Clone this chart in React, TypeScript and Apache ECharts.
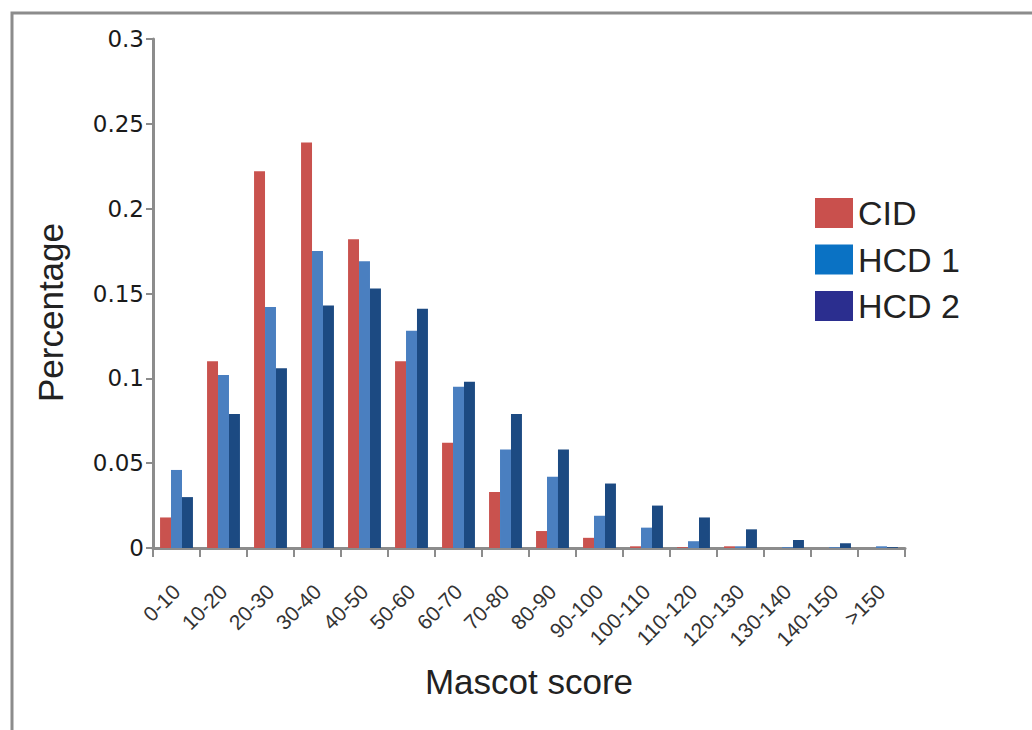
import React, { useEffect, useRef } from "react";
import * as echarts from "echarts";

const categories = [
  "0-10", "10-20", "20-30", "30-40", "40-50", "50-60", "60-70", "70-80",
  "80-90", "90-100", "100-110", "110-120", "120-130", "130-140", "140-150", ">150",
];
const cidValues = [0.018, 0.110, 0.222, 0.239, 0.182, 0.110, 0.062, 0.033, 0.010, 0.006, 0.001, 0.0005, 0.001, 0, 0, 0];
const hcd1Values = [0.046, 0.102, 0.142, 0.175, 0.169, 0.128, 0.095, 0.058, 0.042, 0.019, 0.012, 0.004, 0.001, 0.0005, 0.0005, 0.001];
const hcd2Values = [0.030, 0.079, 0.106, 0.143, 0.153, 0.141, 0.098, 0.079, 0.058, 0.038, 0.025, 0.018, 0.011, 0.0047, 0.0028, 0.0005];
const yTicks = { min: 0, max: 0.3, interval: 0.05 };

const AXIS_GRAY = "#8c8c8c";

export default function App() {
  const ref = useRef<HTMLDivElement>(null);
  useEffect(() => {
    document.body.style.margin = "0";
    if (!ref.current) return;
    const chart = echarts.init(ref.current, undefined, { renderer: "svg" });
    chart.setOption({
      animation: false,
      backgroundColor: "#ffffff",
      graphic: [
        {
          type: "rect",
          shape: { x: 12, y: 13, width: 1100, height: 800 },
          style: { fill: "none", stroke: AXIS_GRAY, lineWidth: 3 },
          silent: true,
        },
      ],
      grid: { left: 153, right: 127, top: 39, bottom: 182, containLabel: false },
      legend: {
        orient: "vertical",
        left: 810,
        top: 191,
        itemWidth: 38,
        itemHeight: 30,
        itemGap: 12.5,
        icon: "rect",
        textStyle: { fontFamily: "Liberation Sans", fontSize: 34, color: "#222" },
        data: [
          { name: "CID", itemStyle: { color: "#c9504d" } },
          { name: "HCD 1", itemStyle: { color: "#0a72c4" } },
          { name: "HCD 2", itemStyle: { color: "#2b2e8f" } },
        ],
      },
      xAxis: {
        type: "category",
        data: categories,
        name: "Mascot score",
        nameLocation: "middle",
        nameGap: 116,
        nameTextStyle: { fontFamily: "Liberation Sans", fontSize: 35, color: "#222" },
        axisLine: { lineStyle: { color: AXIS_GRAY, width: 3 } },
        axisTick: { show: true, length: 9, lineStyle: { color: AXIS_GRAY, width: 2 } },
        axisLabel: {
          rotate: 45,
          interval: 0,
          margin: 40,
          fontFamily: "Liberation Sans",
          fontSize: 21,
          color: "#333",
        },
      },
      yAxis: {
        type: "value",
        min: yTicks.min,
        max: yTicks.max,
        interval: yTicks.interval,
        name: "Percentage",
        nameLocation: "middle",
        nameGap: 85,
        nameRotate: 90,
        nameTextStyle: {
          fontFamily: "Liberation Sans",
          fontSize: 35,
          color: "#222",
          padding: [0, 38, 0, 0],
        },
        splitLine: { show: false },
        axisLine: { show: true, lineStyle: { color: AXIS_GRAY, width: 3 } },
        axisTick: { show: true, length: 7, lineStyle: { color: AXIS_GRAY, width: 2 } },
        axisLabel: { margin: 9, fontFamily: "DejaVu Sans", fontSize: 23, color: "#1a1a1a" },
      },
      series: [
        {
          name: "CID",
          type: "bar",
          data: cidValues,
          barGap: "0%",
          barCategoryGap: "30%",
          itemStyle: { color: "#c9524e" },
        },
        {
          name: "HCD 1",
          type: "bar",
          data: hcd1Values,
          barGap: "0%",
          barCategoryGap: "30%",
          itemStyle: { color: "#4a7fc0" },
        },
        {
          name: "HCD 2",
          type: "bar",
          data: hcd2Values,
          barGap: "0%",
          barCategoryGap: "30%",
          itemStyle: { color: "#1c4a82" },
        },
      ],
    });
    return () => chart.dispose();
  }, []);
  return <div ref={ref} style={{ width: 1032, height: 730 }} />;
}
